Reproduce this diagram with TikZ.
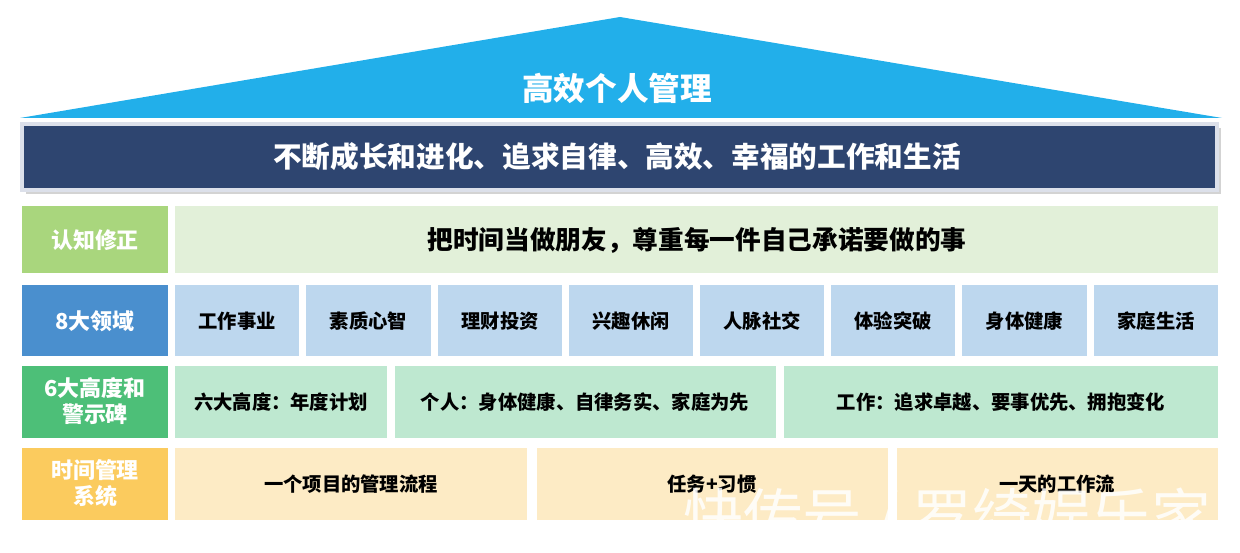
\documentclass[tikz,border=0pt]{standalone}
\usepackage{fontspec}
\setmainfont{Noto Sans CJK SC}
\usetikzlibrary{shadows}
\definecolor{roof}{HTML}{22AFEA}
\definecolor{navy}{HTML}{2E4570}
\definecolor{navyrim}{HTML}{DCE0EA}
\definecolor{lgA}{HTML}{A9D67D}
\definecolor{lgB}{HTML}{E2F0D9}
\definecolor{blA}{HTML}{4A8FCE}
\definecolor{blB}{HTML}{BDD7EE}
\definecolor{gnA}{HTML}{4DBF78}
\definecolor{gnB}{HTML}{BEE8D0}
\definecolor{orA}{HTML}{FBCB5E}
\definecolor{orB}{HTML}{FDEBC5}
\tikzset{
  cellbox/.style={minimum height=0pt, inner sep=0pt, font=\bfseries\fontsize{11}{13}\selectfont, text=black},
  labeltext/.style={text=white, font=\bfseries\fontsize{12.5}{14}\selectfont, align=center},
}
\begin{document}
\begin{tikzpicture}[x=0.02cm,y=-0.02cm]
\useasboundingbox (0,0) rectangle (1240,553);
% roof
\fill[roof] (20,118) -- (620,17) -- (1222,118) -- cycle;
\node[text=white, font=\bfseries\fontsize{18}{20}\selectfont] (title) at (617,88) {高效个人管理};
% banner
\path[fill=navy, draw=navyrim, line width=2.2pt, drop shadow={opacity=0.35, shadow xshift=2pt, shadow yshift=-2.5pt}] (22,124) rectangle (1217,190);
\node[text=white, font=\bfseries\fontsize{16.3}{18}\selectfont] (motto) at (617,157) {不断成长和进化、追求自律、高效、幸福的工作和生活};
% row 1
\fill[lgA] (22,206) rectangle (168,273);
\node[labeltext] (l1) at (95,240) {认知修正};
\fill[lgB] (175,206) rectangle (1218,273);
\node[cellbox, font=\bfseries\fontsize{14.6}{16}\selectfont] (c1) at (697,240) {把时间当做朋友，尊重每一件自己承诺要做的事};
% row 2
\fill[blA] (22,285) rectangle (168,356);
\node[labeltext] (l2) at (95,321) {8大领域};
\foreach \a/\b/\t [count=\i] in {175/299/工作事业,306/431/素质心智,438/562/理财投资,569/693/兴趣休闲,700/824/人脉社交,831/955/体验突破,962/1087/身体健康,1094/1218/家庭生活}{
  \fill[blB] (\a,285) rectangle (\b,356);
  \node[cellbox] (d\i) at ({(\a+\b)/2},321) {\t};
}
% row 3
\fill[gnA] (22,366) rectangle (168,438);
\node[labeltext] (l3) at (95,401) {6大高度和\\[1pt]警示碑};
\fill[gnB] (175,366) rectangle (387,438);
\node[cellbox] (h1) at (281,402) {六大高度：年度计划};
\fill[gnB] (395,366) rectangle (776,438);
\node[cellbox] (h2) at (585,402) {个人：身体健康、自律务实、家庭为先};
\fill[gnB] (784,366) rectangle (1218,438);
\node[cellbox] (h3) at (1001,402) {工作：追求卓越、要事优先、拥抱变化};
% row 4
\fill[orA] (22,448) rectangle (168,520);
\node[labeltext] (l4) at (95,483) {时间管理\\[1pt]系统};
\fill[orB] (175,448) rectangle (527,520);
\node[cellbox] (t1) at (351,484) {一个项目的管理流程};
\fill[orB] (537,448) rectangle (888,520);
\node[cellbox] (t2) at (712,484) {任务+习惯};
\fill[orB] (897,448) rectangle (1218,520);
\node[cellbox] (t3) at (1057,484) {一天的工作流};
% watermark (visible only over coloured boxes)
\begin{scope}
\clip (0,0) rectangle (1240,521);
\node[text=white, opacity=0.85, font=\fontsize{34}{36}\selectfont, anchor=west, inner sep=0pt] (wm) at (683,519) {快传号 / 罗绮娱乐家};
\end{scope}
\end{tikzpicture}
\end{document}
